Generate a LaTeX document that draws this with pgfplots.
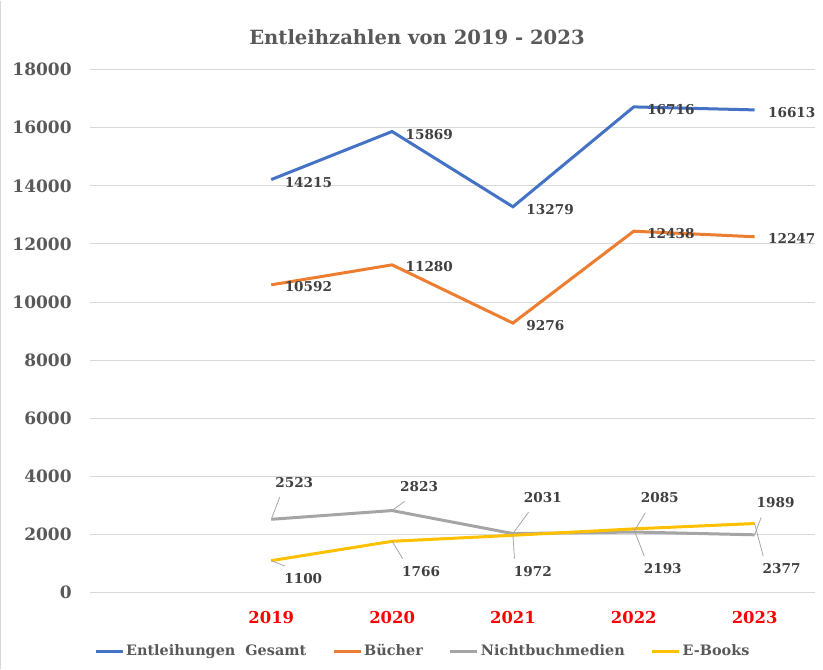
\documentclass[border=0pt]{standalone}
\usepackage{fontspec}
\setmainfont{DejaVu Serif}
\usepackage{pgfplots}
\pgfplotsset{compat=1.18}
\usepackage{pgfplotstable}
\usetikzlibrary{calc}
\definecolor{cblue}{HTML}{4472C4}
\definecolor{corange}{HTML}{ED7D31}
\definecolor{cgray}{HTML}{A5A5A5}
\definecolor{cyellow}{HTML}{FFC000}
\definecolor{txtgray}{HTML}{595959}
\definecolor{lblgray}{HTML}{404040}
\definecolor{gridgray}{HTML}{D9D9D9}
\definecolor{leadgray}{HTML}{A6A6A6}

\pgfplotstableread{
x y
1 14215
2 15869
3 13279
4 16716
5 16613
}\gesamt
\pgfplotstableread{
x y
1 10592
2 11280
3 9276
4 12438
5 12247
}\buecher
\pgfplotstableread{
x y dx dy
1 2523 11.5 18.5
2 2823 13.5 12
3 2031 15 18
4 2085 13 17
5 1989 10.5 16
}\nbm
\pgfplotstableread{
x y dx dy
1 1100 16 -9
2 1766 14.5 -15
3 1972 10 -18
4 2193 14.5 -20
5 2377 13.5 -22.5
}\ebooks

\begin{document}
\begin{tikzpicture}
\begin{axis}[
  name=ax,
  scale only axis,
  width=362.5pt, height=261.5pt,
  xmin=-0.5, xmax=5.5,
  ymin=0, ymax=18000,
  ytick={0,2000,...,18000},
  scaled y ticks=false,
  xtick={1,2,3,4,5},
  xticklabels={2019,2020,2021,2022,2023},
  ymajorgrids,
  grid style={color=gridgray, line width=0.5pt},
  axis line style={draw=none},
  major tick length=0pt,
  clip=false,
  /pgf/number format/.cd, 1000 sep={}, assume math mode=true,
  /pgfplots/.cd,
  yticklabel style={anchor=east, inner sep=0pt, xshift=-9pt,
    font=\bfseries\fontsize{8.5}{10}\selectfont, text=txtgray},
  xticklabel style={anchor=center, inner sep=0pt, yshift=-12.5pt,
    font=\bfseries\fontsize{8.2}{10}\selectfont, text=red},
  title={Entleihzahlen von 2019 - 2023},
  title style={at={(0.451,1)}, anchor=center, yshift=10pt,
    font=\bfseries\fontsize{9.8}{12}\selectfont, text=txtgray},
  legend style={at={(0.459,-0.113)}, anchor=center, draw=none, fill=none,
    legend columns=4,
    font=\bfseries\fontsize{7.2}{9}\selectfont, text=txtgray,
    nodes={inner sep=1pt},
    /tikz/every odd column/.append style={column sep=0pt},
    /tikz/every even column/.append style={column sep=12pt}},
  legend image code/.code={\draw[#1, line width=1.5pt] (0pt,0pt) -- (13.5pt,0pt);},
]
\addplot[cblue, line width=1.5pt, mark=none,
  nodes near coords,
  every node near coord/.append style={anchor=west, xshift=5pt, yshift=-1.5pt,
    inner sep=1pt, font=\bfseries\fontsize{6.8}{8}\selectfont, text=lblgray}]
  table[x=x, y=y] {\gesamt};
\addlegendentry{Entleihungen\ \ Gesamt}
\addplot[corange, line width=1.5pt, mark=none,
  nodes near coords,
  every node near coord/.append style={anchor=west, xshift=5pt, yshift=-1pt,
    inner sep=1pt, font=\bfseries\fontsize{6.8}{8}\selectfont, text=lblgray}]
  table[x=x, y=y] {\buecher};
\addlegendentry{Bücher}
\addplot[cgray, line width=1.5pt, mark=none,
  visualization depends on={\thisrow{dx} \as \dx},
  visualization depends on={\thisrow{dy} \as \dy},
  nodes near coords,
  every node near coord/.append style={anchor=center, xshift=\dx pt, yshift=\dy pt,
    inner sep=1pt, font=\bfseries\fontsize{6.8}{8}\selectfont, text=lblgray,
    append after command={($(\tikzlastnode.center)+(-\dx pt,-\dy pt)$) edge[leadgray, line width=0.4pt] ([xshift=4pt,yshift=-3pt]\tikzlastnode.south west)}}]
  table[x=x, y=y] {\nbm};
\addlegendentry{Nichtbuchmedien}
\addplot[cyellow, line width=1.5pt, mark=none,
  visualization depends on={\thisrow{dx} \as \dx},
  visualization depends on={\thisrow{dy} \as \dy},
  nodes near coords,
  every node near coord/.append style={anchor=center, xshift=\dx pt, yshift=\dy pt,
    inner sep=1pt, font=\bfseries\fontsize{6.8}{8}\selectfont, text=lblgray,
    append after command={($(\tikzlastnode.center)+(-\dx pt,-\dy pt)$) edge[leadgray, line width=0.4pt] ([xshift=2pt,yshift=2pt]\tikzlastnode.north west)}}]
  table[x=x, y=y] {\ebooks};
\addlegendentry{E-Books}
\end{axis}
\path ([xshift=-45pt,yshift=-38pt]ax.south west) rectangle ([xshift=4pt,yshift=34.5pt]ax.north east);
\draw[gridgray, line width=0.6pt] ([xshift=-44.7pt,yshift=-38pt]ax.south west) -- ([xshift=-44.7pt,yshift=34.5pt]ax.north west);
\end{tikzpicture}
\end{document}
